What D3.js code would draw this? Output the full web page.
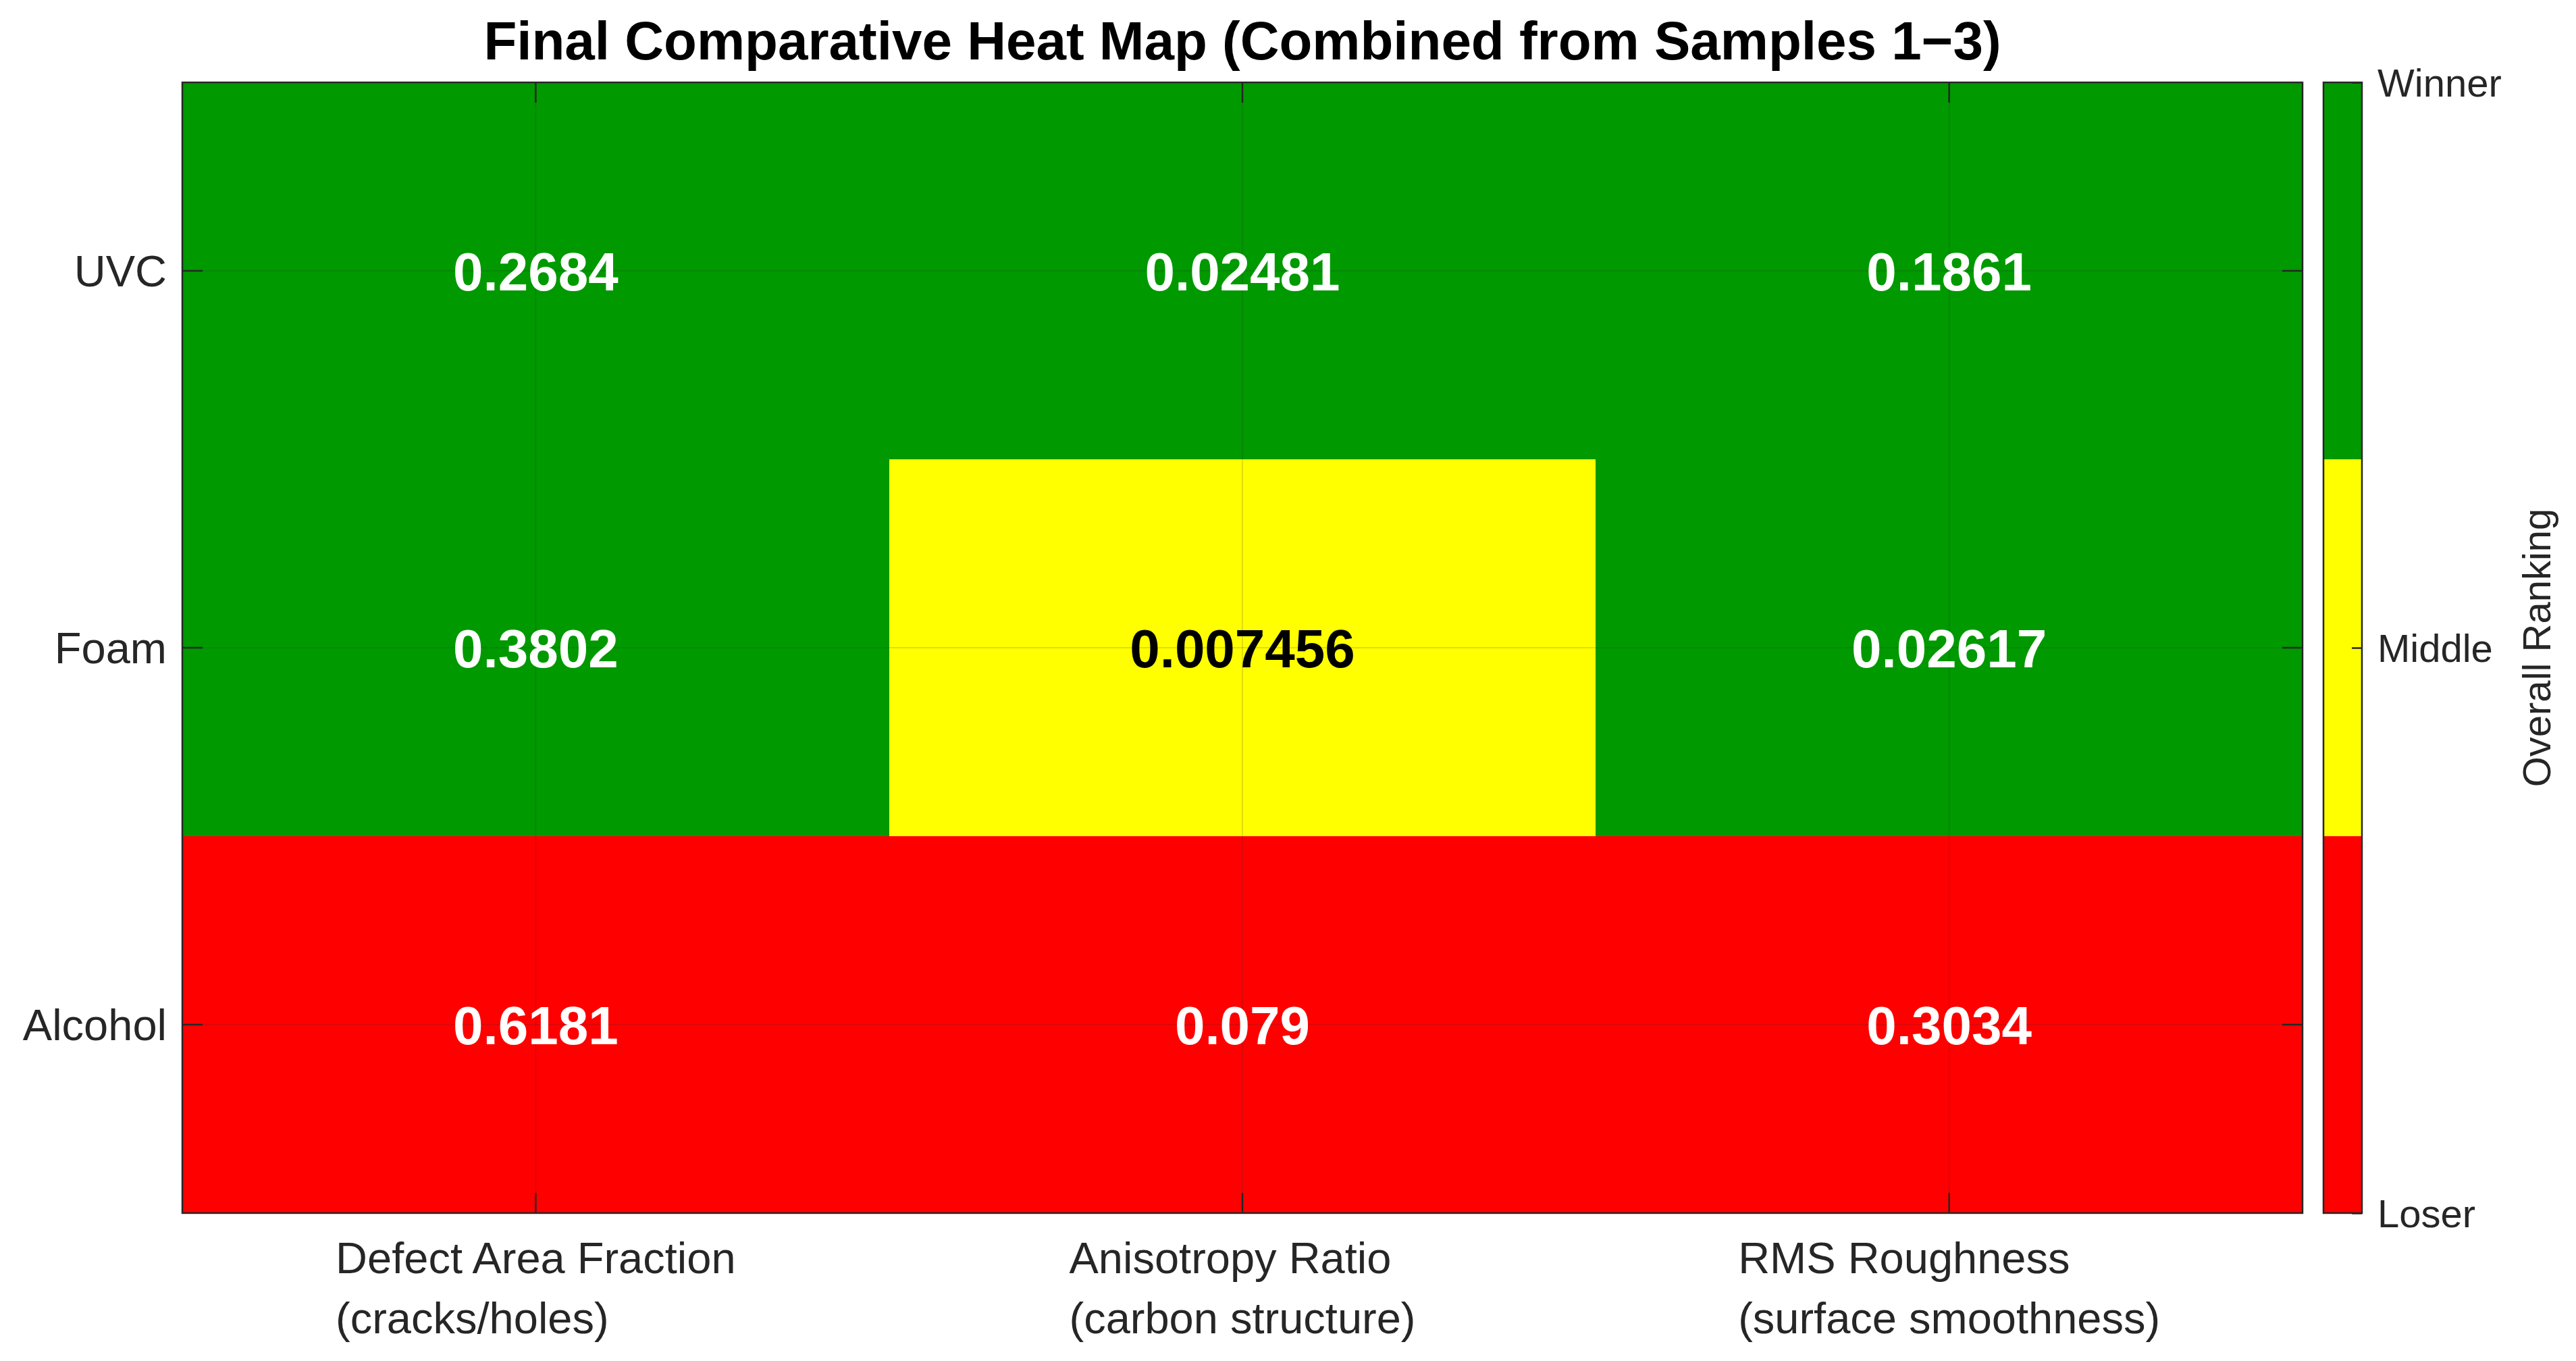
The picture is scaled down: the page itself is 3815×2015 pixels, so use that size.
<!DOCTYPE html>
<html>
<head>
<meta charset="utf-8">
<script src="https://cdn.jsdelivr.net/npm/d3@7"></script>
<style>
	body { margin: 0; background: #fff; }
	text { font-family: "Liberation Sans", Arial, Helvetica, sans-serif; }
</style>
</head>
<body>
<div id="chart"></div>
<script>
// treatments (rows) and metrics (columns)
var treatments = ["UVC", "Foam", "Alcohol"];
var metricNames = ["Defect Area Fraction", "Anisotropy Ratio", "RMS Roughness"];
var metricNotes = ["(cracks/holes)", "(carbon structure)", "(surface smoothness)"];

// combined values shown in each cell, one row per treatment
var uvcValues = [0.2684, 0.02481, 0.1861];
var foamValues = [0.3802, 0.007456, 0.02617];
var alcoholValues = [0.6181, 0.079, 0.3034];

// ranking score per cell: 3 = winner, 2 = middle, 1 = loser
var uvcRanks = [3, 3, 3];
var foamRanks = [3, 2, 3];
var alcoholRanks = [1, 1, 1];

var rankLevels = [1, 2, 3];
var rankLabels = ["Loser", "Middle", "Winner"];
var rankColors = ["#ff0000", "#ffff00", "#009900"];

var chartTitle = "Final Comparative Heat Map (Combined from Samples 1\u22123)";
var colorbarTitle = "Overall Ranking";

var width = 3815,
	height = 2015,
	margin = {
		left: 270,
		right: 405,
		top: 122,
		bottom: 219
	};

var axisColor = "#262626";
var tickLen = 30;

var values = [uvcValues, foamValues, alcoholValues];
var ranks = [uvcRanks, foamRanks, alcoholRanks];

var cells = [];
treatments.forEach(function(t, i) {
	metricNames.forEach(function(m, j) {
		cells.push({row: t, col: m, value: values[i][j], rank: ranks[i][j]});
	});
});

var svg = d3.select("#chart").append("svg")
	.attr("width", width)
	.attr("height", height);

svg.append("rect")
	.attr("width", width)
	.attr("height", height)
	.attr("fill", "#fff");

var x = d3.scaleBand()
	.domain(metricNames)
	.range([margin.left, width - margin.right]);

var y = d3.scaleBand()
	.domain(treatments)
	.range([margin.top, height - margin.bottom]);

var color = d3.scaleOrdinal()
	.domain(rankLevels)
	.range(rankColors);

var fmt = d3.format(".4~g");

// cells
svg.append("g").selectAll("rect")
	.data(cells)
	.enter().append("rect")
	.attr("x", function(d) { return x(d.col); })
	.attr("y", function(d) { return y(d.row); })
	.attr("width", x.bandwidth())
	.attr("height", y.bandwidth())
	.attr("fill", function(d) { return color(d.rank); })
	.attr("shape-rendering", "crispEdges");

// grid lines through the cell centres
var grid = svg.append("g")
	.attr("stroke", axisColor)
	.attr("stroke-opacity", 0.15)
	.attr("stroke-width", 2);

grid.selectAll(".gx")
	.data(metricNames)
	.enter().append("line")
	.attr("x1", function(d) { return x(d) + x.bandwidth() / 2; })
	.attr("x2", function(d) { return x(d) + x.bandwidth() / 2; })
	.attr("y1", y.range()[0])
	.attr("y2", y.range()[1]);

grid.selectAll(".gy")
	.data(treatments)
	.enter().append("line")
	.attr("x1", x.range()[0])
	.attr("x2", x.range()[1])
	.attr("y1", function(d) { return y(d) + y.bandwidth() / 2; })
	.attr("y2", function(d) { return y(d) + y.bandwidth() / 2; });

// axes with inward ticks on all four sides
var axLeft = svg.append("g")
	.attr("transform", "translate(" + margin.left + ",0)")
	.call(d3.axisLeft(y).tickSize(-tickLen).tickPadding(23));

var axRight = svg.append("g")
	.attr("transform", "translate(" + (width - margin.right) + ",0)")
	.call(d3.axisRight(y).tickSize(-tickLen).tickFormat(""));

var axTop = svg.append("g")
	.attr("transform", "translate(0," + margin.top + ")")
	.call(d3.axisTop(x).tickSize(-tickLen).tickFormat(""));

var axBottom = svg.append("g")
	.attr("transform", "translate(0," + (height - margin.bottom) + ")")
	.call(d3.axisBottom(x).tickSize(-tickLen).tickFormat(""));

[axLeft, axRight, axTop, axBottom].forEach(function(g) {
	g.select(".domain").remove();
	g.selectAll(".tick line")
		.attr("stroke", axisColor)
		.attr("stroke-width", 2.5);
});

axLeft.attr("font-family", null).attr("font-size", 65);
axLeft.selectAll(".tick text")
	.attr("fill", axisColor)
	.attr("dy", "0.35em");

// two line x tick labels, left aligned block centred under the tick
var xLabels = svg.append("g").selectAll("text")
	.data(metricNames)
	.enter().append("text")
	.attr("fill", axisColor)
	.attr("font-size", 65)
	.attr("y", 1885);

xLabels.append("tspan")
	.attr("x", 0)
	.text(function(d) { return d; });

xLabels.append("tspan")
	.attr("x", 0)
	.attr("dy", 89)
	.text(function(d, i) { return metricNotes[i]; });

xLabels.each(function(d) {
	var t = d3.select(this);
	var w = this.getBBox().width;
	var cx = x(d) + x.bandwidth() / 2;
	t.selectAll("tspan").attr("x", cx - w / 2);
});

// plot border
svg.append("rect")
	.attr("x", margin.left)
	.attr("y", margin.top)
	.attr("width", x.range()[1] - x.range()[0])
	.attr("height", y.range()[1] - y.range()[0])
	.attr("fill", "none")
	.attr("stroke", axisColor)
	.attr("stroke-width", 2.5);

// cell values
svg.append("g").selectAll("text")
	.data(cells)
	.enter().append("text")
	.attr("x", function(d) { return x(d.col) + x.bandwidth() / 2; })
	.attr("y", function(d) { return y(d.row) + y.bandwidth() / 2; })
	.attr("dy", "0.36em")
	.attr("text-anchor", "middle")
	.attr("font-size", 80)
	.attr("font-weight", "bold")
	.attr("fill", function(d) { return d.rank === 2 ? "#000" : "#fff"; })
	.text(function(d) { return fmt(d.value); });

// title
svg.append("text")
	.attr("x", (x.range()[0] + x.range()[1]) / 2)
	.attr("y", 88)
	.attr("text-anchor", "middle")
	.attr("font-size", 80)
	.attr("font-weight", "bold")
	.attr("fill", "#000")
	.text(chartTitle);

// colorbar
var cbX = 3441,
	cbWidth = 57;

var cbScale = d3.scaleLinear()
	.domain(d3.extent(rankLevels))
	.range([height - margin.bottom, margin.top]);

var step = (cbScale.domain()[1] - cbScale.domain()[0]) / rankLevels.length;

svg.append("g").selectAll("rect")
	.data(rankLevels)
	.enter().append("rect")
	.attr("x", cbX)
	.attr("width", cbWidth)
	.attr("y", function(d, i) { return cbScale(cbScale.domain()[0] + (i + 1) * step); })
	.attr("height", function(d, i) {
		return cbScale(cbScale.domain()[0] + i * step) - cbScale(cbScale.domain()[0] + (i + 1) * step);
	})
	.attr("fill", function(d) { return color(d); })
	.attr("shape-rendering", "crispEdges");

var cbAxis = svg.append("g")
	.attr("transform", "translate(" + (cbX + cbWidth) + ",0)")
	.call(d3.axisRight(cbScale)
		.tickValues(rankLevels)
		.tickSize(-15)
		.tickPadding(23)
		.tickFormat(function(d, i) { return rankLabels[i]; }));

cbAxis.attr("font-family", null).attr("font-size", 58);
cbAxis.select(".domain").remove();
cbAxis.selectAll(".tick line")
	.attr("stroke", axisColor)
	.attr("stroke-width", 2.5);
cbAxis.selectAll(".tick text")
	.attr("fill", axisColor)
	.attr("dy", "0.35em");

svg.append("rect")
	.attr("x", cbX)
	.attr("y", margin.top)
	.attr("width", cbWidth)
	.attr("height", height - margin.bottom - margin.top)
	.attr("fill", "none")
	.attr("stroke", axisColor)
	.attr("stroke-width", 2.5);

svg.append("text")
	.attr("transform", "translate(3777," + cbScale(2) + ") rotate(-90)")
	.attr("text-anchor", "middle")
	.attr("font-size", 58)
	.attr("fill", axisColor)
	.text(colorbarTitle);
</script>
</body>
</html>
